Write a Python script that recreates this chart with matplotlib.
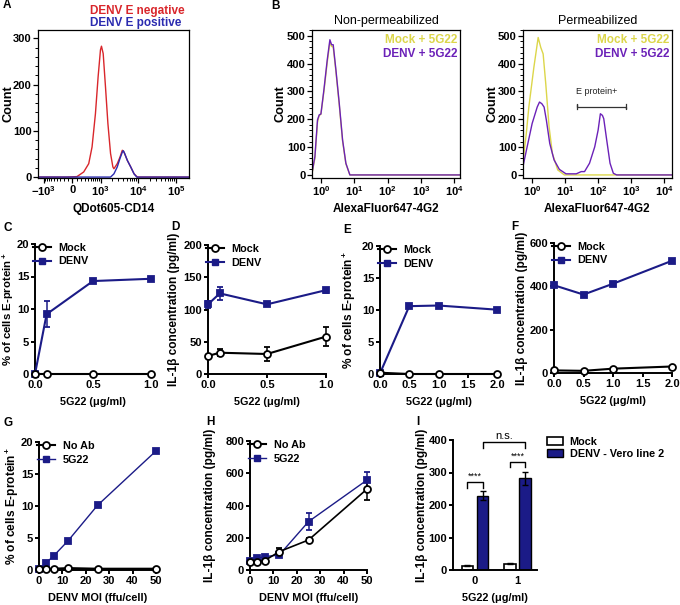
import matplotlib
matplotlib.use('Agg')
import matplotlib.pyplot as plt
from matplotlib.lines import Line2D
from matplotlib.patches import Patch
from matplotlib.ticker import MultipleLocator, FixedLocator, NullFormatter

plt.rcParams['font.family'] = ['Liberation Sans', 'DejaVu Sans']
plt.rcParams['font.weight'] = 'bold'
plt.rcParams['axes.labelweight'] = 'bold'
plt.rcParams['mathtext.fontset'] = 'custom'
plt.rcParams['mathtext.rm'] = 'Liberation Sans:bold'
plt.rcParams['mathtext.bf'] = 'Liberation Sans:bold'
plt.rcParams['mathtext.it'] = 'Liberation Sans:bold'

# ---- A : histogramme CD14 ----
a_neg_x = [-1450, -122, 106, 276, 432, 556, 706, 846, 986, 1052, 1174, 1358, 1579, 1862,
           2149, 2293, 2815, 3319, 3831, 4243, 5207, 6381, 7824, 9605, 220000]
a_neg_y = [0, 0, 1, 11, 29, 65, 137, 217, 275, 283, 267, 195, 116, 51,
           22, 18, 29, 43, 58, 54, 36, 22, 7, 0, 0]
a_pos_x = [-1450, 1862, 2293, 2815, 3319, 3831, 4077, 4420, 5207, 6381, 7824, 9210, 220000]
a_pos_y = [0, 0, 7, 22, 40, 54, 57, 51, 36, 22, 7, 0, 0]

# ---- B : histogrammes 4G2 ----
bn_x = [0.55, 0.66, 0.79, 0.89, 1.0, 1.23, 1.55, 1.86, 2.09, 2.34, 2.82, 3.55, 4.47, 5.62, 7.41, 15000]
bn_mock = [10, 60, 190, 214, 218, 300, 405, 476, 462, 460, 372, 252, 122, 40, 0, 0]
bn_denv = [12, 66, 198, 216, 219, 306, 414, 486, 468, 468, 378, 258, 126, 42, 0, 0]

bp_mock_x = [0.50, 0.68, 0.81, 1.15, 1.55, 1.86, 2.19, 2.63, 3.31, 4.17, 6.03, 9.55, 17000]
bp_mock_y = [18, 149, 244, 387, 494, 458, 435, 327, 173, 77, 18, 0, 0]
bp_denv_x = [0.50, 0.72, 1.02, 1.45, 1.70, 2.0, 2.34, 2.75, 3.47, 4.68, 6.76, 10.7, 21.9, 30.9,
             38.9, 55, 79, 100, 117, 135, 148, 182, 229, 288, 363, 17000]
bp_denv_y = [12, 101, 185, 244, 262, 256, 244, 196, 113, 54, 20, 4, 4, 12,
             12, 42, 101, 161, 220, 214, 202, 125, 42, 6, 0, 0]

# ---- C / D ----
dose_cd = [0, 0.1, 0.5, 1.0]
c_mock = [0, 0, 0, 0]
c_denv = [0, 9.2, 14.3, 14.65]
c_denv_err = [0, 2.0, 0.3, 0.3]
d_mock = [28, 33, 31, 58]
d_mock_err = [2, 5, 11, 15]
d_denv = [108, 125, 108, 130]
d_denv_err = [5, 10, 2, 4]

# ---- E / F ----
dose_ef = [0, 0.5, 1.0, 2.0]
e_mock = [0.2, 0, 0, 0]
e_denv = [0.1, 10.6, 10.7, 10.05]
f_mock = [12, 10, 20, 30]
f_denv = [405, 362, 412, 518]

# ---- G / H ----
moi = [0, 3.125, 6.25, 12.5, 25, 50]
g_noab = [0.1, 0.1, 0.2, 0.3, 0.2, 0.2]
g_5g22 = [0.1, 1.15, 2.2, 4.6, 10.1, 18.6]
h_noab = [52, 48, 58, 114, 186, 502]
h_noab_err = [4, 4, 5, 20, 10, 65]
h_5g22 = [55, 72, 83, 93, 300, 558]
h_5g22_err = [5, 8, 8, 15, 52, 50]

# ---- I ----
i_groups = ['0', '1']
i_mock = [13, 20]
i_mock_err = [2, 2]
i_denv = [229, 282]
i_denv_err = [15, 21]

navy = '#1b1b87'
red = '#d9262b'
blue = '#2b2bb0'
yellow = '#dcd64a'
purple = '#6b21b8'

W, H = 680, 605
fig = plt.figure(figsize=(6.8, 6.05), dpi=100)


def add_ax(l, t, r, b):
    return fig.add_axes([l / W, 1 - b / H, (r - l) / W, (b - t) / H])


def letter(x, y, s):
    fig.text(x / W, 1 - y / H, s, fontsize=8.5, fontweight='bold', va='center', ha='left')


def flow_style(ax, ylab_x):
    for sp in ax.spines.values():
        sp.set_linewidth(0.9)
    ax.tick_params(which='major', direction='out', length=3.5, width=0.9, labelsize=8, pad=1.2)
    ax.tick_params(which='minor', direction='out', length=2, width=0.7)
    ax.tick_params(top=False, right=False, which='both')
    ax.set_ylabel('Count', fontsize=9.2)
    ax.yaxis.set_label_coords(ylab_x, 0.5)
    ax.yaxis.set_minor_locator(MultipleLocator(20))


def prism(ax, xmax, ymax, xt, xtl, yt, ylabel, xlabel, ylab_x, ylab_size=8.6):
    ax.spines['top'].set_visible(False)
    ax.spines['right'].set_visible(False)
    ax.spines['left'].set_linewidth(1.4)
    ax.spines['bottom'].set_linewidth(1.4)
    ax.set_xlim(0, xmax)
    ax.set_ylim(0, ymax)
    ax.set_xticks(xt)
    ax.set_xticklabels(xtl)
    ax.set_yticks(yt)
    ax.tick_params(direction='out', length=3, width=1.4, labelsize=8, pad=1.2)
    ax.set_ylabel(ylabel, fontsize=ylab_size)
    ax.yaxis.set_label_coords(ylab_x, 0.5)
    ax.set_xlabel(xlabel, fontsize=7.8)
    ax.xaxis.set_label_coords(0.5, -0.18)


def series(ax, x, y, err, color, marker, mfc, lw, ms):
    ax.errorbar(x, y, yerr=err, color=color, marker=marker, mfc=mfc, mec=color, mew=1.3,
                ms=ms, lw=lw, elinewidth=1.1, capsize=2.5, capthick=1.1, clip_on=False, zorder=3)


def legend(ax, labels, lw_blue=1.5, ms_blue=4.5):
    handles = [Line2D([], [], color='black', marker='o', mfc='white', mec='black', mew=1.3, ms=5, lw=1.5),
               Line2D([], [], color=navy, marker='s', mfc=navy, mec=navy, ms=ms_blue, lw=lw_blue)]
    ax.legend(handles, labels, loc='upper left', bbox_to_anchor=(-0.02, 1.01), frameon=False,
              fontsize=7.8, handlelength=1.7, handletextpad=0.7, borderaxespad=0, borderpad=0,
              labelspacing=0.35, numpoints=1)


pct = '% of cells E-protein$^+$'
il = 'IL-1β concentration (pg/ml)'
ug = '5G22 (μg/ml)'
moi_lab = 'DENV MOI (ffu/cell)'

# ---------- A ----------
axA = add_ax(38, 30, 189, 178)
axA.set_xscale('asinh', linear_width=368)
axA.plot(a_neg_x, a_neg_y, color=red, lw=1.0)
axA.plot(a_pos_x, a_pos_y, color=blue, lw=1.0)
axA.set_xlim(-1450, 220000)
axA.set_ylim(-2, 318)
axA.xaxis.set_major_locator(FixedLocator([-1000, 0, 1000, 10000, 100000]))
axA.set_xticklabels(['$-10^3$', '0', '$10^3$', '$10^4$', '$10^5$'])
minorA = []
for d in [100, 1000, 10000]:
    minorA += [k * d for k in range(2, 10)]
minorA += [-k * 100 for k in range(1, 10)] + [100]
axA.xaxis.set_minor_locator(FixedLocator(minorA))
axA.xaxis.set_minor_formatter(NullFormatter())
axA.set_yticks([0, 100, 200, 300])
flow_style(axA, -0.155)
axA.set_xlabel('QDot605-CD14', fontsize=8.5)
axA.xaxis.set_label_coords(0.5, -0.17)
fig.text(90 / W, 1 - 11 / H, 'DENV E negative', color=red, fontsize=8.5, fontweight='bold', va='center')
fig.text(90 / W, 1 - 23 / H, 'DENV E positive', color=blue, fontsize=8.5, fontweight='bold', va='center')


# ---------- B ----------
def flow_b(ax, title, xmax):
    ax.set_xscale('log')
    ax.set_xlim(0.54, xmax)
    ax.set_ylim(-11, 521)
    ax.set_xticks([1, 10, 100, 1000, 10000])
    ax.set_xticklabels(['$10^0$', '$10^1$', '$10^2$', '$10^3$', '$10^4$'])
    ax.xaxis.set_minor_formatter(NullFormatter())
    ax.set_yticks([0, 100, 200, 300, 400, 500])
    ax.set_title(title, fontsize=9, fontweight='normal', pad=4)
    ax.set_xlabel('AlexaFluor647-4G2', fontsize=8.5)
    ax.xaxis.set_label_coords(0.5, -0.17)
    ax.text(0.98, 0.93, 'Mock + 5G22', color=yellow, transform=ax.transAxes, ha='right',
            va='center', fontsize=8.5, fontweight='bold')
    ax.text(0.98, 0.84, 'DENV + 5G22', color=purple, transform=ax.transAxes, ha='right',
            va='center', fontsize=8.5, fontweight='bold')


axB1 = add_ax(312, 30, 460, 178)
axB1.plot(bn_x, bn_mock, color=yellow, lw=1.0)
axB1.plot(bn_x, bn_denv, color=purple, lw=1.0)
flow_b(axB1, 'Non-permeabilized', 15000)
flow_style(axB1, -0.17)

axB2 = add_ax(523, 30, 672, 178)
axB2.plot(bp_mock_x, bp_mock_y, color=yellow, lw=1.0)
axB2.plot(bp_denv_x, bp_denv_y, color=purple, lw=1.0)
flow_b(axB2, 'Permeabilized', 17000)
flow_style(axB2, -0.165)
axB2.plot([23, 23, 23, 700, 700, 700], [236, 256, 246, 246, 236, 256], color='#333333', lw=0.9)
axB2.text(90, 300, 'E protein+', fontsize=6.5, fontweight='normal', ha='center', va='center', color='#222222')

# ---------- C ----------
axC = add_ax(35, 244, 151, 374)
series(axC, dose_cd, c_denv, c_denv_err, navy, 's', navy, 1.5, 4.5)
series(axC, dose_cd, c_mock, None, 'black', 'o', 'white', 1.5, 5)
prism(axC, 1.0, 20, [0, 0.5, 1.0], ['0.0', '0.5', '1.0'], [0, 5, 10, 15, 20], pct, ug, -0.164, 8.2)
legend(axC, ['Mock', 'DENV'])

# ---------- D ----------
axD = add_ax(208, 245, 326, 374)
series(axD, dose_cd, d_denv, d_denv_err, navy, 's', navy, 1.5, 4.5)
series(axD, dose_cd, d_mock, d_mock_err, 'black', 'o', 'white', 1.5, 5)
prism(axD, 1.0, 200, [0, 0.5, 1.0], ['0.0', '0.5', '1.0'], [0, 50, 100, 150, 200], il, ug, -0.24)
legend(axD, ['Mock', 'DENV'])

# ---------- E ----------
axE = add_ax(380, 246, 497, 374)
series(axE, dose_ef, e_denv, None, navy, 's', navy, 1.5, 4.5)
series(axE, dose_ef, e_mock, None, 'black', 'o', 'white', 1.5, 5)
prism(axE, 2.0, 20, [0, 0.5, 1.0, 1.5, 2.0], ['0.0', '0.5', '1.0', '1.5', '2.0'], [0, 5, 10, 15, 20], pct, ug, -0.19)
legend(axE, ['Mock', 'DENV'])

# ---------- F ----------
axF = add_ax(554, 243, 672, 373)
series(axF, dose_ef, f_denv, None, navy, 's', navy, 1.5, 4.5)
series(axF, dose_ef, f_mock, None, 'black', 'o', 'white', 1.5, 5)
prism(axF, 2.0, 600, [0, 0.5, 1.0, 1.5, 2.0], ['0.0', '0.5', '1.0', '1.5', '2.0'], [0, 200, 400, 600], il, ug, -0.22)
legend(axF, ['Mock', 'DENV'])

# ---------- G ----------
axG = add_ax(39, 442, 156, 570)
series(axG, moi, g_5g22, None, navy, 's', navy, 1.0, 4)
series(axG, moi, g_noab, None, 'black', 'o', 'white', 1.5, 5)
prism(axG, 50, 20, [0, 10, 20, 30, 40, 50], ['0', '10', '20', '30', '40', '50'], [0, 5, 10, 15, 20], pct, moi_lab, -0.155)
legend(axG, ['No Ab', '5G22'], lw_blue=1.0, ms_blue=4)

# ---------- H ----------
axH = add_ax(250, 441, 367, 570)
series(axH, moi, h_5g22, h_5g22_err, navy, 's', navy, 1.0, 4)
series(axH, moi, h_noab, h_noab_err, 'black', 'o', 'white', 1.2, 5)
prism(axH, 50, 800, [0, 10, 20, 30, 40, 50], ['0', '10', '20', '30', '40', '50'], [0, 200, 400, 600, 800], il, moi_lab, -0.29)
legend(axH, ['No Ab', '5G22'], lw_blue=1.0, ms_blue=4)

# ---------- I ----------
axI = add_ax(453, 440, 537, 570)
pos = [0, 1]
off = 0.18
bw = 0.27
axI.bar([p - off for p in pos], i_mock, bw, yerr=i_mock_err, color='white', edgecolor='black', lw=1.2,
        error_kw=dict(elinewidth=1, capsize=2.5, capthick=1))
axI.bar([p + off for p in pos], i_denv, bw, yerr=i_denv_err, color=navy, edgecolor='black', lw=1.0,
        error_kw=dict(elinewidth=1, capsize=2.5, capthick=1))
prism(axI, 1, 400, [0, 1], i_groups, [0, 100, 200, 300, 400], il, ug, -0.30)
axI.set_xlim(-0.52, 1.46)
axI.tick_params(axis='x', length=0, pad=4)


def bracket(ax, x1, x2, ybar, yleg, txt, ytxt, fs):
    ax.plot([x1, x1, x2, x2], [yleg, ybar, ybar, yleg], color='black', lw=1.0, clip_on=False)
    ax.text((x1 + x2) / 2, ytxt, txt, ha='center', va='center', fontsize=fs, fontweight='normal', clip_on=False)


bracket(axI, -off, off, 270, 253, '****', 290, 6.5)
bracket(axI, 1 - off, 1 + off, 333, 316, '****', 350, 6.5)
bracket(axI, off, 1 + off, 393, 374, 'n.s.', 412, 8)

fig.legend([Patch(facecolor='white', edgecolor='black', lw=1.2), Patch(facecolor=navy, edgecolor='black')],
           ['Mock', 'DENV - Vero line 2'], loc='upper left', bbox_to_anchor=(547 / W, 1 - 437 / H),
           frameon=False, fontsize=7.8, handlelength=1.5, handleheight=0.75, handletextpad=0.6,
           labelspacing=0.15, borderpad=0, borderaxespad=0)

# ---------- lettres ----------
letter(3, 5, 'A')
letter(271, 6, 'B')
letter(3, 228, 'C')
letter(171, 227, 'D')
letter(343, 230, 'E')
letter(511, 227, 'F')
letter(3, 423, 'G')
letter(206, 422, 'H')
letter(416, 422, 'I')

fig.savefig('out.png', dpi=100)
